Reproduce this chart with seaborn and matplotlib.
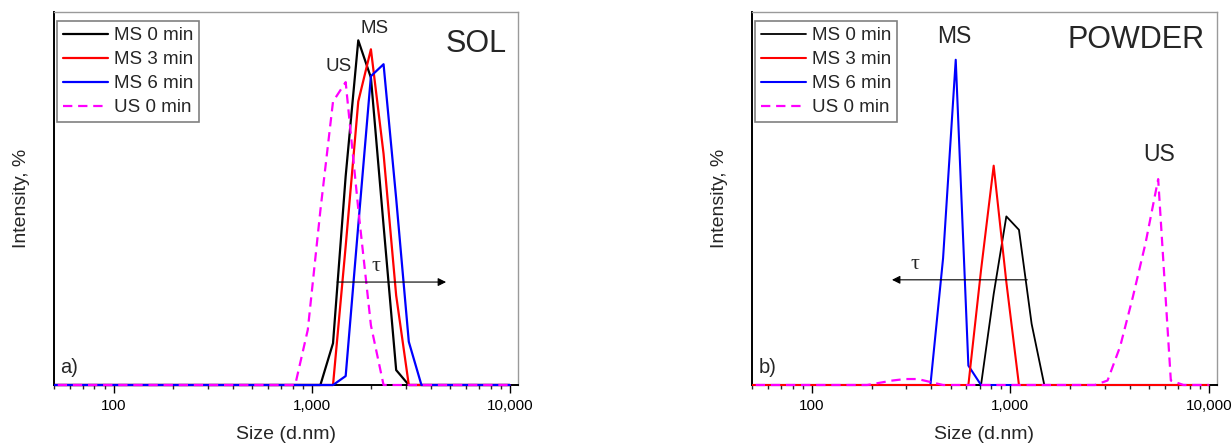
import numpy as np
import pandas as pd
import seaborn as sns
import matplotlib
matplotlib.use("Agg")
import matplotlib.pyplot as plt
from matplotlib.patches import Rectangle
from matplotlib.ticker import LogLocator, FuncFormatter, NullFormatter

# ---------------- data ----------------
sizes = [43.82, 50.75, 58.77, 68.06, 78.82, 91.28, 105.7, 122.4, 141.8, 164.2,
         190.1, 220.2, 255.0, 295.3, 342.0, 396.1, 458.7, 531.2, 615.1, 712.4,
         825.0, 955.4, 1106, 1281, 1484, 1718, 1990, 2305, 2669, 3091,
         3580, 4145, 4801, 5560, 6439, 7456, 8635, 10000]

series_labels = ["MS 0 min", "MS 3 min", "MS 6 min", "US 0 min"]

# SOL (panel a)
sol_ms0 = [0, 0, 0, 0, 0, 0, 0, 0, 0, 0,
           0, 0, 0, 0, 0, 0, 0, 0, 0, 0,
           0, 0, 0, 2.8, 14.0, 23.1, 20.6, 10.7, 1.0, 0,
           0, 0, 0, 0, 0, 0, 0, 0]
sol_ms3 = [0, 0, 0, 0, 0, 0, 0, 0, 0, 0,
           0, 0, 0, 0, 0, 0, 0, 0, 0, 0,
           0, 0, 0, 0, 9.3, 19.0, 22.5, 15.5, 6.0, 0,
           0, 0, 0, 0, 0, 0, 0, 0]
sol_ms6 = [0, 0, 0, 0, 0, 0, 0, 0, 0, 0,
           0, 0, 0, 0, 0, 0, 0, 0, 0, 0,
           0, 0, 0, 0, 0.6, 10.7, 20.7, 21.5, 12.5, 2.9,
           0, 0, 0, 0, 0, 0, 0, 0]
sol_us0 = [0, 0, 0, 0, 0, 0, 0, 0, 0, 0,
           0, 0, 0, 0, 0, 0, 0, 0, 0, 0,
           0, 3.7, 11.7, 19.0, 20.3, 11.8, 4.0, 0, 0, 0,
           0, 0, 0, 0, 0, 0, 0, 0]

# POWDER (panel b)
pow_ms0 = [0, 0, 0, 0, 0, 0, 0, 0, 0, 0,
           0, 0, 0, 0, 0, 0, 0, 0, 0, 0,
           6.1, 11.3, 10.4, 4.1, 0, 0, 0, 0, 0, 0,
           0, 0, 0, 0, 0, 0, 0, 0]
pow_ms3 = [0, 0, 0, 0, 0, 0, 0, 0, 0, 0,
           0, 0, 0, 0, 0, 0, 0, 0, 0, 7.7,
           14.7, 6.9, 0, 0, 0, 0, 0, 0, 0, 0,
           0, 0, 0, 0, 0, 0, 0, 0]
pow_ms6 = [0, 0, 0, 0, 0, 0, 0, 0, 0, 0,
           0, 0, 0, 0, 0, 0, 8.5, 21.8, 1.3, 0,
           0, 0, 0, 0, 0, 0, 0, 0, 0, 0,
           0, 0, 0, 0, 0, 0, 0, 0]
pow_us0 = [0, 0, 0, 0, 0, 0, 0, 0, 0, 0,
           0, 0.15, 0.3, 0.4, 0.4, 0.2, 0, 0, 0, 0,
           0, 0, 0, 0, 0, 0, 0, 0, 0, 0.3,
           2.6, 5.9, 9.5, 13.8, 0.3, 0, 0, 0]

x_ticks = [100, 1000, 10000]
x_lim = (50, 11000)
y_lim = (0, 25)

colors = ["#000000", "#FF0000", "#0000FF", "#FF00FF"]

# ---------------- style ----------------
sns.set_style("ticks")
plt.rcParams["font.family"] = ["Liberation Sans", "DejaVu Sans"]

fig = plt.figure(figsize=(12.32, 4.43), dpi=100)
W, H = 1232, 443


def make_axes(x0, x1, y_top=12, y_bot=385):
    return fig.add_axes([x0 / W, (H - y_bot) / H, (x1 - x0) / W, (y_bot - y_top) / H])


axL = make_axes(54, 518)
axR = make_axes(752, 1217)


def draw_panel(ax, data, zorders, lws):
    for lab, vals, col, zo, lw in zip(series_labels, data, colors, zorders, lws):
        df = pd.DataFrame({"size": sizes, "intensity": vals})
        sns.lineplot(data=df, x="size", y="intensity", ax=ax, color=col,
                     linewidth=lw, label=lab, estimator=None, sort=False,
                     zorder=zo)
        line = ax.lines[-1]
        clip = Rectangle((0, -0.03), 1, 1.03, transform=ax.transAxes)
        line.set_clip_path(clip)
        if lab.startswith("US"):
            line.set_dashes((4.2, 2.6))
    ax.set_xscale("log")
    ax.set_xlim(*x_lim)
    ax.set_ylim(*y_lim)
    ax.set_xticks(x_ticks)
    ax.xaxis.set_major_formatter(FuncFormatter(lambda v, p: f"{v:,.0f}"))
    ax.xaxis.set_minor_locator(LogLocator(base=10, subs=np.arange(2, 10)))
    ax.xaxis.set_minor_formatter(NullFormatter())
    ax.set_yticks([])
    ax.tick_params(axis="x", which="major", direction="out", length=5.4,
                   width=1.0, labelsize=11, pad=5, colors="#000000")
    ax.tick_params(axis="x", which="minor", direction="out", length=3.1,
                   width=1.0)
    ax.set_xlabel("Size (d.nm)", fontsize=14, labelpad=9)
    ax.set_ylabel("Intensity, %", fontsize=14, labelpad=17)
    for s in ["left", "bottom"]:
        ax.spines[s].set_color("#000000")
        ax.spines[s].set_linewidth(1.4)
    for s in ["top", "right"]:
        ax.spines[s].set_visible(True)
        ax.spines[s].set_color("#9a9a9a")
        ax.spines[s].set_linewidth(1.0)
    handles, labels = ax.get_legend_handles_labels()
    leg = ax.legend(handles, labels, loc="upper left",
                    bbox_to_anchor=(0.007, 0.975), borderaxespad=0,
                    fontsize=13.5, frameon=True, fancybox=False,
                    edgecolor="#808080", framealpha=1, handlelength=2.4,
                    handletextpad=0.3, borderpad=0.32, labelspacing=0.36)
    leg.get_frame().set_linewidth(1.2)


draw_panel(axL, [sol_ms0, sol_ms3, sol_ms6, sol_us0], [3, 4, 5, 6],
           [1.6, 1.6, 1.6, 1.6])
draw_panel(axR, [pow_ms0, pow_ms3, pow_ms6, pow_us0], [3, 5, 4, 6],
           [1.3, 1.5, 1.5, 1.6])

# ---------------- annotations ----------------
axL.text(0.976, 0.914, "SOL", transform=axL.transAxes, ha="right",
         va="center", fontsize=22)
axL.text(0.690, 0.956, "MS", transform=axL.transAxes, ha="center",
         va="center", fontsize=13.5)
axL.text(0.613, 0.855, "US", transform=axL.transAxes, ha="center",
         va="center", fontsize=13.5)
axL.text(0.013, 0.048, "a)", transform=axL.transAxes, ha="left",
         va="center", fontsize=14.5)
axL.text(0.694, 0.318, "τ", transform=axL.transAxes, ha="center",
         va="center", fontsize=16, family=["Liberation Serif", "DejaVu Serif"])
axL.annotate("", xy=(0.845, 0.276), xytext=(0.610, 0.276),
             xycoords="axes fraction",
             arrowprops=dict(arrowstyle="-|>", color="#000000", lw=0.8,
                             mutation_scale=12, shrinkA=0, shrinkB=0),
             zorder=7)

axR.text(0.974, 0.925, "POWDER", transform=axR.transAxes, ha="right",
         va="center", fontsize=22)
axR.text(0.434, 0.933, "MS", transform=axR.transAxes, ha="center",
         va="center", fontsize=16.5)
axR.text(0.875, 0.617, "US", transform=axR.transAxes, ha="center",
         va="center", fontsize=16.5)
axR.text(0.015, 0.048, "b)", transform=axR.transAxes, ha="left",
         va="center", fontsize=14.5)
axR.text(0.351, 0.324, "τ", transform=axR.transAxes, ha="center",
         va="center", fontsize=16, family=["Liberation Serif", "DejaVu Serif"])
axR.annotate("", xy=(0.301, 0.282), xytext=(0.592, 0.282),
             xycoords="axes fraction",
             arrowprops=dict(arrowstyle="-|>", color="#000000", lw=0.8,
                             mutation_scale=12, shrinkA=0, shrinkB=0),
             zorder=7)

fig.savefig("out.png", dpi=100, facecolor="white")
